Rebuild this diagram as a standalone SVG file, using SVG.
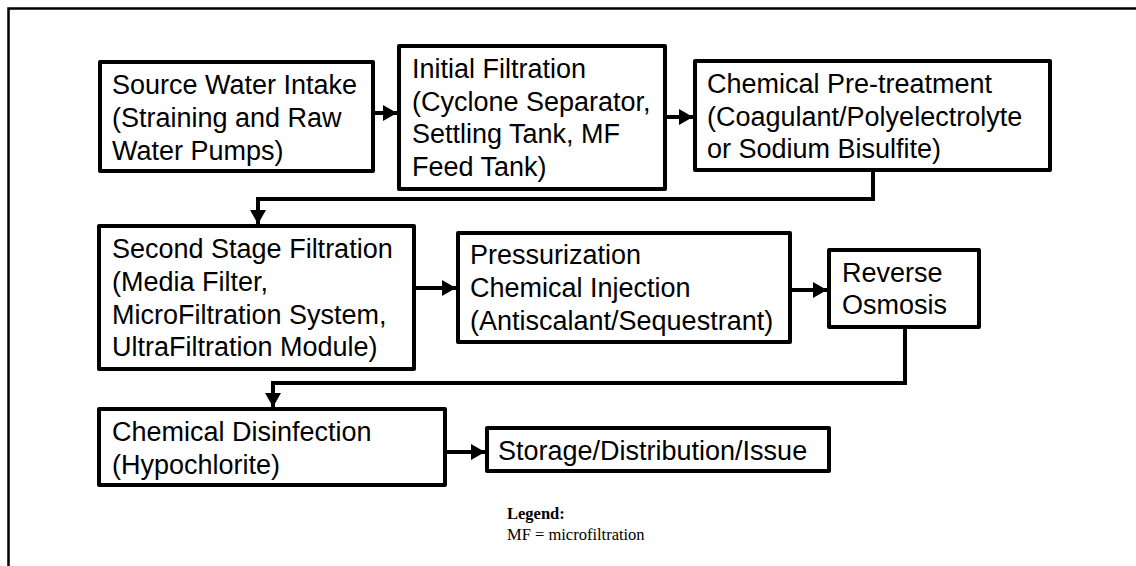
<svg xmlns="http://www.w3.org/2000/svg" width="1136" height="566" viewBox="0 0 1136 566">
<style>
.box{fill:#fff;stroke:#000;stroke-width:4;stroke-linejoin:round}
.t{font-family:"Liberation Sans",Arial,sans-serif;font-size:27px;fill:#000}
.c{fill:none;stroke:#000;stroke-width:4;stroke-linejoin:miter}
.lg{font-family:"Liberation Serif","Times New Roman",serif;font-size:16.5px;fill:#000}
</style>
<defs>
<marker id="ah" markerUnits="userSpaceOnUse" markerWidth="16" markerHeight="18" refX="14" refY="8" orient="auto">
<path d="M0,0 L14,8 L0,16 Z" fill="#000"/>
</marker>
</defs>
<rect x="0" y="0" width="1136" height="566" fill="#fff"/>
<rect x="8.5" y="8.5" width="1200" height="600" fill="none" stroke="#000" stroke-width="2.5"/>
<g id="connectors">
<path class="c" d="M375 113 H397" marker-end="url(#ah)"/>
<path class="c" d="M667 117 H693" marker-end="url(#ah)"/>
<path class="c" d="M873 172 V199 H258 V224" marker-end="url(#ah)"/>
<path class="c" d="M416 288 H456" marker-end="url(#ah)"/>
<path class="c" d="M792 290 H827" marker-end="url(#ah)"/>
<path class="c" d="M905 329 V383 H273 V407" marker-end="url(#ah)"/>
<path class="c" d="M447 452 H485" marker-end="url(#ah)"/>
</g>
<g id="n1">
<rect class="box" x="100" y="62" width="273" height="109"/>
<text class="t"><tspan x="112" y="94">Source Water Intake</tspan><tspan x="112" y="127">(Straining and Raw</tspan><tspan x="112" y="160">Water Pumps)</tspan></text>
</g>
<g id="n2">
<rect class="box" x="399" y="46" width="266" height="143"/>
<text class="t"><tspan x="412" y="78">Initial Filtration</tspan><tspan x="412" y="111">(Cyclone Separator,</tspan><tspan x="412" y="143">Settling Tank, MF</tspan><tspan x="412" y="176">Feed Tank)</tspan></text>
</g>
<g id="n3">
<rect class="box" x="695" y="61" width="355" height="109"/>
<text class="t"><tspan x="707" y="93">Chemical Pre-treatment</tspan><tspan x="707" y="126">(Coagulant/Polyelectrolyte</tspan><tspan x="707" y="158">or Sodium Bisulfite)</tspan></text>
</g>
<g id="n4">
<rect class="box" x="99" y="226" width="315" height="143"/>
<text class="t"><tspan x="112" y="258">Second Stage Filtration</tspan><tspan x="112" y="291">(Media Filter,</tspan><tspan x="112" y="324">MicroFiltration System,</tspan><tspan x="112" y="356">UltraFiltration Module)</tspan></text>
</g>
<g id="n5">
<rect class="box" x="458" y="233" width="332" height="109"/>
<text class="t"><tspan x="470" y="264">Pressurization</tspan><tspan x="470" y="297">Chemical Injection</tspan><tspan x="470" y="330">(Antiscalant/Sequestrant)</tspan></text>
</g>
<g id="n6">
<rect class="box" x="829" y="250" width="150" height="77"/>
<text class="t"><tspan x="842" y="282">Reverse</tspan><tspan x="842" y="314">Osmosis</tspan></text>
</g>
<g id="n7">
<rect class="box" x="99" y="409" width="346" height="76"/>
<text class="t"><tspan x="112" y="441">Chemical Disinfection</tspan><tspan x="112" y="474">(Hypochlorite)</tspan></text>
</g>
<g id="n8">
<rect class="box" x="487" y="428" width="342" height="43"/>
<text class="t" x="498" y="460">Storage/Distribution/Issue</text>
</g>
<g id="legend">
<text class="lg" x="507" y="519" font-weight="bold">Legend:</text>
<text class="lg" x="507" y="540">MF = microfiltration</text>
</g>
</svg>
